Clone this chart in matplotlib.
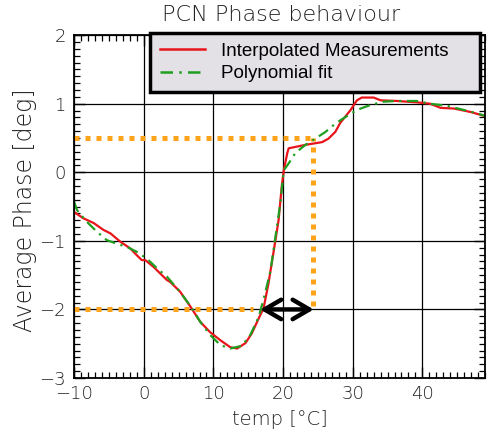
import matplotlib
matplotlib.use("Agg")
import matplotlib.pyplot as plt
from matplotlib.ticker import MultipleLocator

meas_t = [-10, -8.7, -7.2, -5.8, -4.8, -3.4, -1.95, -1.0, -0.3, 0.2, 1.4, 3.3, 3.8,
          5.2, 6.7, 8.1, 9.5, 11.0, 12.4, 13.4, 14.6, 15.5, 16.5, 17.2, 17.9, 18.6,
          19.35, 19.8, 20.1, 20.6, 20.8, 21.75, 23.2, 24.4, 25.6, 26.5, 27.5, 28.2,
          29.7, 30.6, 31.3, 33.0, 34.0, 36.4, 39.2, 41.1, 42.6, 44.5, 46.9, 49.3]
meas_phase = [-0.58, -0.67, -0.74, -0.84, -0.89, -1.01, -1.11, -1.21, -1.28, -1.28,
              -1.38, -1.57, -1.60, -1.74, -1.96, -2.18, -2.33, -2.45, -2.55, -2.57,
              -2.49, -2.35, -2.13, -1.98, -1.62, -1.18, -0.70, -0.21, 0.03, 0.28,
              0.35, 0.37, 0.40, 0.42, 0.44, 0.49, 0.59, 0.72, 0.91, 1.05, 1.09, 1.09,
              1.05, 1.04, 1.02, 1.00, 0.94, 0.93, 0.88, 0.81]

# polynomial fit (green)
fit_t = [-10, -9.6, -8.2, -6.7, -5.3, -3.9, -2.4, -1.0, 0.45, 1.9, 3.3, 5.0, 6.7,
         8.1, 9.5, 11.0, 12.4, 14.1, 15.3, 16.5, 17.4, 18.2, 18.9, 19.6, 20.1, 20.8,
         21.75, 23.2, 24.6, 26.1, 27.5, 28.7, 30.6, 32.5, 34.4, 36.4, 39.2, 41.1,
         43.5, 45.9, 47.9, 49.3]
fit_phase = [-0.43, -0.55, -0.72, -0.87, -0.99, -1.04, -1.09, -1.16, -1.26, -1.40,
             -1.52, -1.72, -1.95, -2.18, -2.37, -2.52, -2.57, -2.53, -2.37, -2.11,
             -1.77, -1.43, -0.94, -0.45, 0.03, 0.13, 0.28, 0.40, 0.49, 0.59, 0.71,
             0.79, 0.91, 0.98, 1.03, 1.04, 1.04, 1.00, 0.97, 0.91, 0.86, 0.81]

# guide lines and the double arrow
guide_low_y, guide_low_end = -2.0, 15.7
guide_high_y, guide_x = 0.5, 24.3
guide_x_bottom = -1.95
arrow_from, arrow_to = 16.7, 24.4

TXT = "#222222"
plt.rcParams["font.weight"] = "light"
plt.rcParams["axes.labelweight"] = "light"

fig = plt.figure(figsize=(4.88, 4.34), dpi=100)
ax = fig.add_axes([0.152, 0.129, 0.842, 0.790])

ax.grid(True, which="major", color="black", lw=0.9)
ax.set_axisbelow(True)

orange = dict(color="#ffa31a", lw=3.6, ls=(0, (1, 1.2)), solid_capstyle="butt")
ax.plot([-10, guide_low_end], [guide_low_y, guide_low_y], **orange)
ax.plot([-10, guide_x], [guide_high_y, guide_high_y], **orange)
ax.plot([guide_x, guide_x], [guide_x_bottom, guide_high_y], **orange)

ax.plot(meas_t, meas_phase, color="#e8141b", lw=1.6, label="Interpolated Measurements")
ax.plot(fit_t, fit_phase, color="#1f9e1f", lw=1.6, ls=(0, (5, 2.5, 1, 2.5)),
        label="Polynomial fit")

ax.annotate("", xy=(arrow_from, guide_low_y), xytext=(arrow_to, guide_low_y),
            arrowprops=dict(arrowstyle="<->,head_length=0.6,head_width=0.35",
                            lw=3.2, color="black", mutation_scale=20,
                            shrinkA=0, shrinkB=0))

ax.set_xlim(-10, 49)
ax.set_ylim(-3, 2)
ax.xaxis.set_major_locator(MultipleLocator(10))
ax.xaxis.set_minor_locator(MultipleLocator(1))
ax.yaxis.set_major_locator(MultipleLocator(1))
ax.yaxis.set_minor_locator(MultipleLocator(0.1))
ax.tick_params(which="both", direction="in", top=True, right=True, color="black")
ax.tick_params(which="major", length=8, width=1)
ax.tick_params(which="minor", length=4, width=0.9)
ax.tick_params(axis="x", labelsize=13, labelcolor=TXT, pad=5)
ax.tick_params(axis="y", labelsize=13, labelcolor=TXT, pad=6)
for s in ax.spines.values():
    s.set_linewidth(1.3)

ax.set_xlabel("temp [°C]", fontsize=14, color=TXT, va="center", fontweight="light")
ax.xaxis.set_label_coords(0.5, -0.122)
ax.set_ylabel("Average Phase [deg]", fontsize=17, color=TXT, va="center",
              fontweight="light")
ax.yaxis.set_label_coords(-0.119, 0.49)

fig.text(0.576, 1 - 15 / 434, "PCN Phase behaviour", fontsize=16, color=TXT,
         ha="center", va="center", fontweight="light")

leg = ax.legend(loc="upper left", bbox_to_anchor=(0.185, 1.006, 0.803, 0),
                mode="expand", borderaxespad=0, fancybox=False, framealpha=1,
                facecolor="#e3e0e6", edgecolor="black", handlelength=2.4,
                handletextpad=0.9, labelspacing=0.3, borderpad=0.5,
                prop={"family": "Liberation Sans", "size": 13.5, "weight": "normal"})
leg.get_frame().set_linewidth(2.5)
for line in leg.get_lines():
    line.set_linewidth(1.8)

fig.savefig("out.png", dpi=100)
